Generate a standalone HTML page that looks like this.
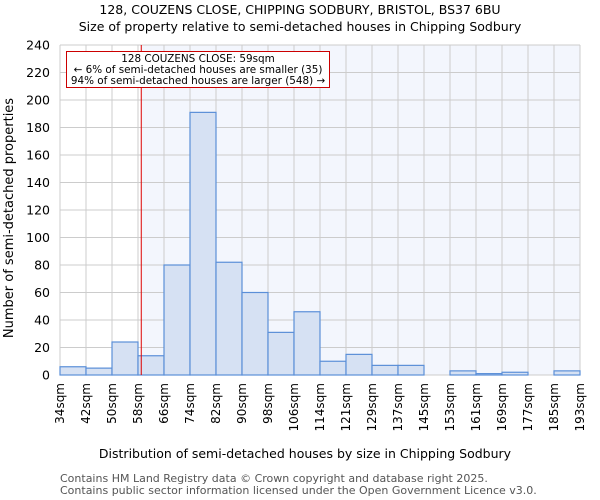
<!DOCTYPE html>
<html><head><meta charset="utf-8"><style>
body{margin:0;background:#fff}
svg{display:block;font-family:"DejaVu Sans","Liberation Sans",sans-serif}
</style></head><body>
<svg id="chart" width="600" height="500" viewBox="0 0 600 500">
<text x="300" y="14" text-anchor="middle" font-size="12.5">128, COUZENS CLOSE, CHIPPING SODBURY, BRISTOL, BS37 6BU</text>
<text x="300" y="31" text-anchor="middle" font-size="12.5">Size of property relative to semi-detached houses in Chipping Sodbury</text>
<g id="plot"></g>
<text x="305" y="458" text-anchor="middle" font-size="12.5">Distribution of semi-detached houses by size in Chipping Sodbury</text>
<text transform="translate(13,218) rotate(-90)" text-anchor="middle" font-size="13">Number of semi-detached properties</text>
<text x="60" y="482" font-size="11" fill="#555">Contains HM Land Registry data © Crown copyright and database right 2025.</text>
<text x="60" y="494" font-size="11" fill="#555">Contains public sector information licensed under the Open Government Licence v3.0.</text>
</svg>
<script>
const binLabels=["34sqm","42sqm","50sqm","58sqm","66sqm","74sqm","82sqm","90sqm","98sqm","106sqm","114sqm","121sqm","129sqm","137sqm","145sqm","153sqm","161sqm","169sqm","177sqm","185sqm","193sqm"];
const counts=[6,5,24,14,80,191,82,60,31,46,10,15,7,7,0,3,1,2,0,3];
const yTicks=[0,20,40,60,80,100,120,140,160,180,200,220,240];
const markerBin=3.125;
const NS="http://www.w3.org/2000/svg";
const L=60,R=580,T=45,B=375,YMAX=240;
const g=document.getElementById('plot');
const x=i=>L+(R-L)*i/counts.length;
const y=v=>B-(B-T)*v/YMAX;
function mk(t,a){const e=document.createElementNS(NS,t);for(const k in a)e.setAttribute(k,a[k]);g.appendChild(e);return e;}
const mx=x(markerBin);
let e=mk('rect',{x:L,y:T,width:R-L,height:B-T,fill:'#fff'});


e=mk('rect',{x:mx,y:T,width:R-mx,height:B-T,fill:'#f3f6fd'});


binLabels.forEach((lb,i)=>{
 const l=mk('line',{x1:x(i),x2:x(i),y1:T,y2:B,stroke:'#ccc'});
 
 
 const t=mk('text',{transform:`translate(${x(i)+4},${B+8}) rotate(-90)`,'text-anchor':'end','font-size':'12'});
 t.textContent=lb;
 
 
});
yTicks.forEach(v=>{
 const l=mk('line',{x1:L,x2:R,y1:y(v),y2:y(v),stroke:'#ccc'});
 
 
 const t=mk('text',{x:L-10,y:y(v)+4.5,'text-anchor':'end','font-size':'12.5'});
 t.textContent=v;
 
 
});
counts.forEach((c,i)=>{
 const r=mk('rect',{x:x(i),y:y(c),width:x(i+1)-x(i),height:B-y(c),fill:'#d6e1f3',stroke:'#5b8fd8','stroke-width':1.2});
 
 
});
e=mk('line',{x1:mx,x2:mx,y1:T,y2:B,stroke:'#dd0000','stroke-width':1});


e=mk('rect',{x:66.5,y:51.5,width:263,height:36,fill:'#fff',stroke:'#cc0000'});


[["128 COUZENS CLOSE: 59sqm",62],["← 6% of semi-detached houses are smaller (35)",73],["94% of semi-detached houses are larger (548) →",84]].forEach(([s,yy])=>{
 const t=mk('text',{x:198,y:yy,'text-anchor':'middle','font-size':'10.4'});
 t.textContent=s;
 
 
});
</script>
</body></html>
